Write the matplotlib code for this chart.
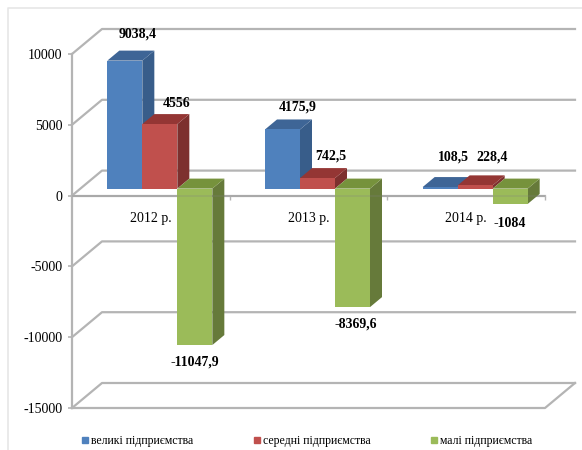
import matplotlib
matplotlib.use("Agg")
import matplotlib.pyplot as plt
from matplotlib.patches import Polygon
from matplotlib.lines import Line2D
import numpy as np

years = ["2012 р.", "2013 р.", "2014 р."]
series_names = ["великі підприємства", "середні підприємства", "малі підприємства"]
large = [9038.4, 4175.9, 108.5]
medium = [4556, 742.5, 228.4]
small = [-11047.9, -8369.6, -1084]
y_ticks = [10000, 5000, 0, -5000, -10000, -15000]

W, H = 582, 450
L, R, T, B = 72, 545, 54, 408
GRID = "#b4b4b4"
front = ["#4f81bd", "#c0504d", "#9bbb59"]
side = ["#385d8a", "#7d302e", "#667a3a"]
top = ["#3e6596", "#943634", "#76923c"]

plt.rcParams["font.family"] = ["Liberation Serif", "DejaVu Serif"]
fig = plt.figure(figsize=(W / 100, H / 100), dpi=100, facecolor="white")
ax = fig.add_axes([L / W, 1 - B / H, (R - L) / W, (B - T) / H])
ax.set_xlim(-0.5, 2.5)
ax.set_ylim(-15000, 10000)
ax.patch.set_visible(False)
for s in ("top", "right"):
    ax.spines[s].set_visible(False)
ax.spines["left"].set_color(GRID)
ax.spines["left"].set_linewidth(1.6)
ax.spines["bottom"].set_color(GRID)
ax.spines["bottom"].set_linewidth(1.6)
ax.spines["bottom"].set_position(("data", 0))
ax.spines["bottom"].set_zorder(1)

px = (2.5 + 0.5) / (R - L)
py = 25000 / (B - T)

def dx(p):
    return p * px

def dy(p):
    return p * py

# walls and floor
wall_x, wall_y = dx(30), dy(25)
for v in y_ticks:
    ax.plot([-0.5, -0.5 + wall_x, 2.5 + wall_x], [v, v + wall_y, v + wall_y],
            color=GRID, lw=1.6, clip_on=False, zorder=0.5)
ax.plot([-0.5, 2.5, 2.5 + wall_x], [-15000, -15000, -15000 + wall_y],
        color=GRID, lw=1.6, clip_on=False, zorder=0.5)

# bars with their oblique faces
bar_w = dx(35)
off_x, off_y = dx(9), dy(7)
depth_x, depth_y = dx(12), dy(10)
xs = np.arange(len(years))
for i, vals in enumerate([large, medium, small]):
    for c, v in zip(xs, vals):
        x0 = c + off_x + (i - 1.5) * bar_w
        x1 = x0 + bar_w
        y0 = off_y
        y1 = off_y + v
        up = max(y0, y1)
        lo = min(y0, y1)
        ax.bar(x0, y1 - y0, width=bar_w, bottom=y0, align="edge", color=front[i],
               zorder=3, clip_on=False)
        ax.add_patch(Polygon([(x1, lo), (x1 + depth_x, lo + depth_y),
                              (x1 + depth_x, up + depth_y), (x1, up)],
                             closed=True, fc=side[i], ec="none", zorder=2.9, clip_on=False))
        ax.add_patch(Polygon([(x0, up), (x1, up), (x1 + depth_x, up + depth_y),
                              (x0 + depth_x, up + depth_y)],
                             closed=True, fc=top[i], ec="none", zorder=2.9, clip_on=False))

ax.axhline(0, color="#808080", lw=1.2, alpha=0.25, zorder=6)

# value labels
label_offsets = {
    (0, 0): (13, 27), (0, 1): (17, 21), (0, 2): (0, -17),
    (1, 0): (15, 22), (1, 1): (13, 22), (1, 2): (3, -17),
    (2, 0): (13, 30), (2, 1): (17, 28), (2, 2): (0, -20),
}
for i, vals in enumerate([large, medium, small]):
    for c, v in zip(xs, vals):
        x_mid = c + off_x + (i - 1) * bar_w
        text = f"{v:g}".replace(".", ",")
        ox, oy = label_offsets[(c, i)]
        ax.annotate(text, (x_mid, off_y + v), xytext=(ox * 0.72, oy * 0.72),
                    textcoords="offset points", ha="center", va="center",
                    fontsize=10, fontweight="bold", color="black",
                    annotation_clip=False, zorder=8)

ax.set_yticks(y_ticks)
ax.set_yticklabels([str(v) for v in y_ticks], fontsize=10)
ax.tick_params(axis="y", length=3, width=1.2, color=GRID, pad=4)
ax.set_xticks(xs)
ax.set_xticklabels(years, fontsize=10)
ax.tick_params(axis="x", which="major", length=0, pad=12)
ax.set_xticks(xs + 0.5, minor=True)
ax.tick_params(axis="x", which="minor", length=3, width=1.0, color=GRID)

# frame of the picture
fig.add_artist(Line2D([8 / W, 8 / W, 1], [0, 1 - 8 / H, 1 - 8 / H],
                      color="#e6e6e6", lw=1.2, transform=fig.transFigure))

# legend
handles = [Line2D([], [], ls="none", marker="s", ms=4.5, color=col) for col in front]
ax.legend(handles, series_names, loc="center left", ncol=3, frameon=False,
          bbox_to_anchor=((79 - L) / (R - L), (B - 441) / (B - T)),
          fontsize=8.5, handletextpad=0.0, handlelength=1.0, columnspacing=4.9,
          borderaxespad=0, borderpad=0)

fig.savefig("out.png", dpi=100, facecolor="white")
